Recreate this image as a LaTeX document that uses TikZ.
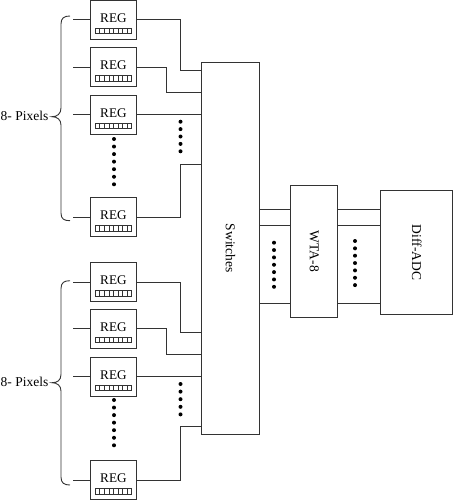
\documentclass[tikz,border=0pt]{standalone}
\usepackage{fontspec}
\setmainfont{Liberation Serif}
\begin{document}
\begin{tikzpicture}[x=1pt,y=-1pt,
  ln/.style={draw=black!80,line width=0.9pt},
  reg/.style={ln,rectangle,minimum width=45.5pt,minimum height=39pt,inner sep=0pt,font=\fontsize{13.2}{14}\selectfont},
  blk/.style={ln,rectangle,inner sep=0pt,font=\fontsize{13.5}{15}\selectfont},
  dot/.style={fill=black},
  lbl/.style={font=\fontsize{13.5}{15}\selectfont,inner sep=0pt}]
\useasboundingbox (0,0) rectangle (454,500);
% main blocks
\node[blk,minimum width=57.6pt,minimum height=371.3pt] (sw) at (230.5,248.35) {};
\node[lbl,rotate=-90] (swt) at (sw.center) {Switches};
\node[blk,minimum width=47pt,minimum height=132pt] (wta) at (314.2,251.3) {};
\node[lbl,rotate=-90] (wtat) at (wta.center) {WTA-8};
\node[blk,minimum width=72pt,minimum height=123.6pt] (adc) at (416.8,252.5) {};
\node[lbl,rotate=-90] (adct) at (adc.center) {Diff-ADC};
% REG boxes
\foreach \n/\c in {1/19.7,2/67.2,3/114.7,4/217,5/282.2,6/328.8,7/376.5,8/480}{
  \node[reg] (r\n) at (113.4,\c) {};
  \node[lbl,font=\fontsize{13.2}{14}\selectfont] (rt\n) at (113.4,\c-1.8) {REG};
  \draw[black!80,line width=0.7pt] (95.2,\c+8.6) rectangle (131.6,\c+14);
  \foreach \k in {1,...,7}{
    \draw[black!80,line width=0.6pt] (95.2+\k*4.55,\c+8.6) -- (95.2+\k*4.55,\c+14);
  }
  \coordinate (in\n) at (73,\c);
  \draw[ln] (in\n) -- (r\n.west);
}
% connections to switches (top group)
\draw[ln] (r1.east) -| (180,70.7) -- (sw.west |- 0,70.7);
\draw[ln] (r2.east) -| (166.7,92.7) -- (sw.west |- 0,92.7);
\draw[ln] (r3.east) -- (sw.west |- r3.east);
\draw[ln] (r4.east) -| (180,164.5) -- (sw.west |- 0,164.5);
% bottom group
\draw[ln] (r5.east) -| (180,332.7) -- (sw.west |- 0,332.7);
\draw[ln] (r6.east) -| (166.7,354.3) -- (sw.west |- 0,354.3);
\draw[ln] (r7.east) -- (sw.west |- r7.east);
\draw[ln] (r8.east) -| (180,426.7) -- (sw.west |- 0,426.7);
% switches -> WTA -> ADC
\foreach \y in {209,225,303.3}{
  \draw[ln] (sw.east |- 0,\y) -- (wta.west |- 0,\y);
  \draw[ln] (wta.east |- 0,\y) -- (adc.west |- 0,\y);
}
% dots
\foreach \i in {0,...,6}{
  \fill[dot] (114,139+\i*7.55) circle (2pt);
  \fill[dot] (114,400+\i*7.55) circle (2pt);
  \fill[dot] (274,242.7+\i*7.35) circle (2pt);
  \fill[dot] (355,241+\i*7.35) circle (2pt);
}
\foreach \i in {0,...,4}{
  \fill[dot] (180.5,121.7+\i*7.4) circle (2pt);
  \fill[dot] (180.5,384+\i*7.6) circle (2pt);
}
% braces
\draw[ln] (70,16) .. controls (64,16) and (61,18) .. (61,24) -- (61,108)
  .. controls (61,114) and (57,116.7) .. (52,116.7)
  .. controls (57,116.7) and (61,119.5) .. (61,125) -- (61,213)
  .. controls (61,219) and (64,220.7) .. (70,220.7);
\node[lbl,anchor=east] (p1) at (48.5,116) {8- Pixels};
\draw[ln] (70,280.7) .. controls (64,280.7) and (61,282.7) .. (61,288.7) -- (61,374.5)
  .. controls (61,380.5) and (57,382.7) .. (52,382.7)
  .. controls (57,382.7) and (61,385.5) .. (61,391) -- (61,477)
  .. controls (61,483) and (64,485) .. (70,485);
\node[lbl,anchor=east] (p2) at (48.5,382) {8- Pixels};
\end{tikzpicture}
\end{document}
